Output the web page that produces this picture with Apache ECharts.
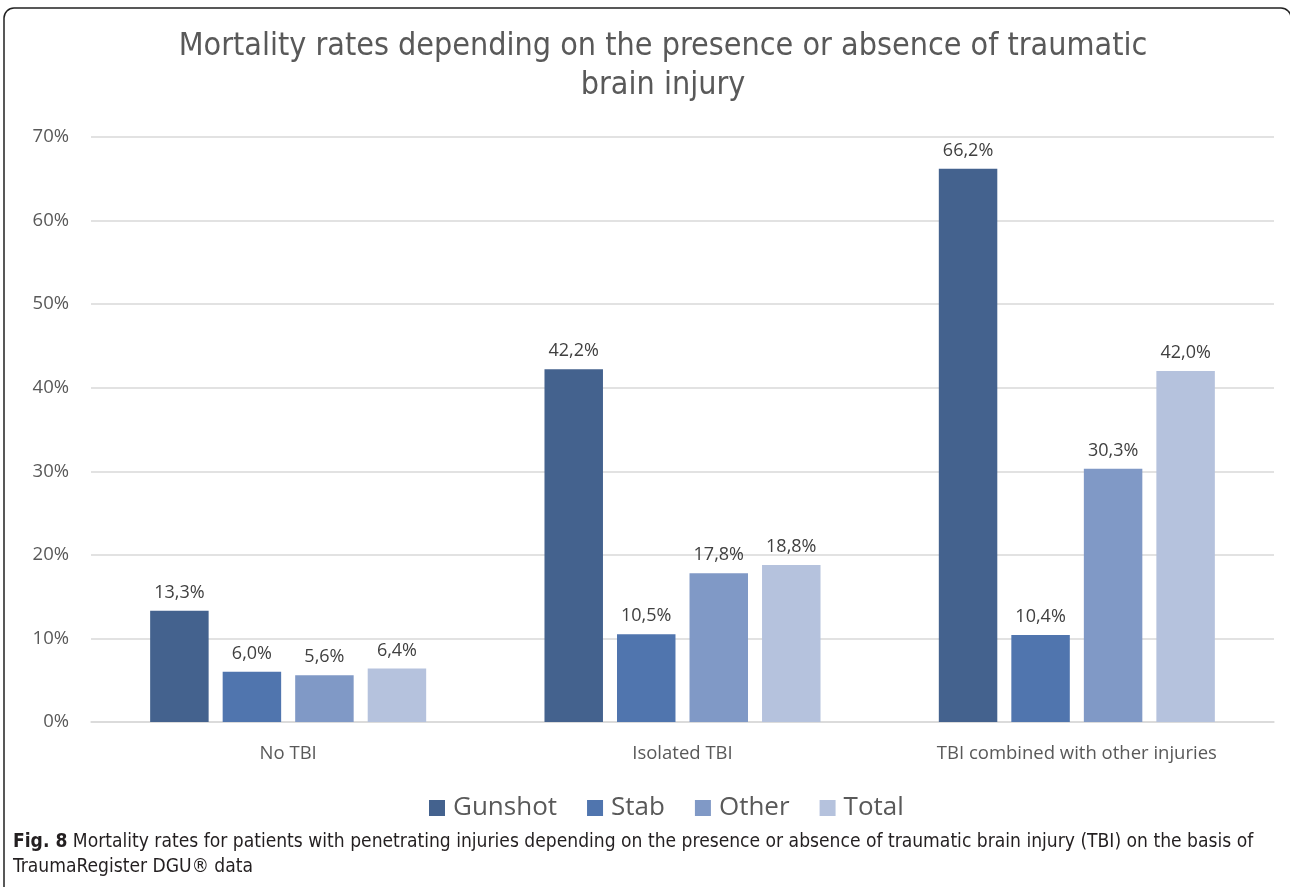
<!DOCTYPE html>
<html>
<head>
<meta charset="utf-8">
<script src="https://cdn.jsdelivr.net/npm/echarts@6/dist/echarts.min.js"></script>
<style>
  html, body { margin: 0; padding: 0; background: #ffffff; }
  #chart { width: 1290px; height: 887px; }
</style>
</head>
<body>
<div id="chart"></div>
<script>
// Mortality (%) by injury mechanism, grouped by TBI status
const categories = ['No TBI', 'Isolated TBI', 'TBI combined with other injuries'];
const gunshot = [13.3, 42.2, 66.2];
const stab = [6.0, 10.5, 10.4];
const other = [5.6, 17.8, 30.3];
const total = [6.4, 18.8, 42.0];
const seriesNames = ['Gunshot', 'Stab', 'Other', 'Total'];
const seriesColors = ['#44628e', '#5075ae', '#8099c6', '#b5c2dd'];
const yTicks = [0, 10, 20, 30, 40, 50, 60, 70];

const titleFont = '"Liberation Sans Narrow", "DejaVu Sans Condensed", sans-serif';
const bodyFont = '"Open Sans", "Noto Sans", sans-serif';

const pct = v => v.toFixed(1).replace('.', ',') + '%';

const chart = echarts.init(document.getElementById('chart'), null, { renderer: 'canvas' });

const seriesData = [gunshot, stab, other, total];

chart.setOption({
  backgroundColor: '#ffffff',
  animation: false,
  title: [{
    text: 'Mortality rates depending on the presence or absence of traumatic\nbrain injury',
    left: 658,
    textAlign: 'center',
    top: 22,
    textStyle: {
      fontFamily: titleFont,
      fontWeight: 'normal',
      fontSize: 32,
      lineHeight: 39,
      color: '#595959'
    }
  }],
  legend: {
    data: seriesNames,
    left: 424,
    top: 790,
    itemWidth: 16,
    itemHeight: 16,
    itemGap: 30,
    icon: 'rect',
    textStyle: { fontFamily: bodyFont, fontSize: 26, color: '#595959', padding: [0, 0, 0, 3] }
  },
  grid: { left: 91, right: 16, top: 137, bottom: 165, containLabel: false },
  xAxis: {
    type: 'category',
    data: categories,
    axisLine: { show: true, lineStyle: { color: '#d9d9d9', width: 1.5 } },
    axisTick: { show: false },
    axisLabel: { margin: 22, fontFamily: bodyFont, fontSize: 18.5, color: '#595959' }
  },
  yAxis: {
    type: 'value',
    min: 0,
    max: 70,
    interval: 10,
    axisLine: { show: false },
    axisTick: { show: false },
    splitLine: { lineStyle: { color: '#d9d9d9', width: 1.5 } },
    axisLabel: {
      margin: 22,
      fontFamily: bodyFont,
      fontSize: 18.5,
      color: '#595959',
      formatter: v => yTicks.includes(v) ? v + '%' : ''
    }
  },
  series: seriesNames.map((name, i) => ({
    name: name,
    type: 'bar',
    data: seriesData[i],
    barGap: '24%',
    barCategoryGap: '30%',
    itemStyle: { color: seriesColors[i] },
    label: {
      show: true,
      position: 'top',
      distance: 9,
      fontFamily: bodyFont,
      fontSize: 18,
      color: '#404040',
      formatter: p => pct(p.value)
    }
  })),
  graphic: [
    {
      type: 'rect',
      shape: { x: 4, y: 8, width: 1287, height: 1000, r: 10 },
      style: { fill: null, stroke: '#222222', lineWidth: 1.5 },
      silent: true
    },
    {
      type: 'text',
      left: 13,
      top: 830,
      style: {
        text: '{b|Fig. 8} Mortality rates for patients with penetrating injuries depending on the presence or absence of traumatic brain injury (TBI) on the basis of\nTraumaRegister DGU® data',
        font: '19.1px ' + titleFont,
        fill: '#231f20',
        lineHeight: 25,
        rich: {
          b: { fontWeight: 'bold', fontSize: 19.1, fontFamily: titleFont, fill: '#231f20' }
        }
      }
    }
  ]
});
</script>
</body>
</html>
